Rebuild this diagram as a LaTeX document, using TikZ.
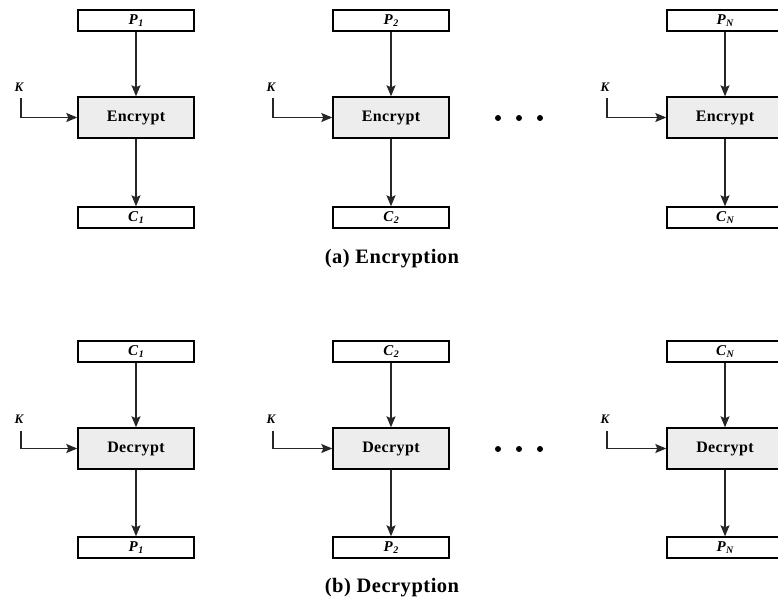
\documentclass[tikz,border=0pt]{standalone}
\usepackage{fontspec}
\setmainfont{Liberation Serif}
\newfontfamily\widefont[LetterSpace=2.5]{Liberation Serif}
\usetikzlibrary{arrows.meta}
% letter with a lowered index, set in the current font
\newcommand\lblsub[2]{#1\kern0.5pt\raisebox{-0.35ex}{\fontsize{10}{10}\selectfont #2}}
\begin{document}
\begin{tikzpicture}[x=1pt,y=-1pt,
  io/.style={draw, line width=1.4pt, minimum width=116pt, minimum height=21pt,
    inner sep=0pt, font=\bfseries\itshape\fontsize{15}{15}\selectfont},
  cipher/.style={draw, line width=1.4pt, fill=gray!14, minimum width=116pt,
    minimum height=41pt, inner sep=0pt, font=\widefont\bfseries\fontsize{16}{16}\selectfont},
  flow/.style={-{Stealth[length=11pt,width=9pt,inset=2pt]}, line width=1.1pt, draw=black!85},
  keylbl/.style={font=\bfseries\itshape\fontsize{13}{13}\selectfont, inner sep=0pt},
  caption/.style={font=\widefont\bfseries\fontsize{20.5}{20.5}\selectfont, inner sep=0pt},
  dot/.style={circle, fill=black, inner sep=0pt, minimum size=6pt}]
\useasboundingbox (0,0) rectangle (778,599);

% one column per block: index / centre x / key line x / input index / output index
\foreach \i/\cx/\kx/\s in {1/136/21/1, 2/391/273/2, 3/725/607/N} {
  % encryption row
  \node[io] (ep\i) at (\cx,20.5) {\lblsub{P}{\s}};
  \node[cipher] (enc\i) at (\cx,117.5) {Encrypt};
  \node[io] (ec\i) at (\cx,217.5) {\lblsub{C}{\s}};
  \node[keylbl] (ek\i) at (\kx-2,87) {K};
  \coordinate (ekt\i) at (\kx,98);
  \draw[flow] (ep\i) -- (enc\i);
  \draw[flow] (enc\i) -- (ec\i);
  \draw[flow] (ekt\i) |- (enc\i.west);
  % decryption row
  \node[io] (dc\i) at (\cx,351.5) {\lblsub{C}{\s}};
  \node[cipher] (dec\i) at (\cx,448.5) {Decrypt};
  \node[io] (dp\i) at (\cx,547.5) {\lblsub{P}{\s}};
  \node[keylbl] (dk\i) at (\kx-2,419) {K};
  \coordinate (dkt\i) at (\kx,431);
  \draw[flow] (dc\i) -- (dec\i);
  \draw[flow] (dec\i) -- (dp\i);
  \draw[flow] (dkt\i) |- (dec\i.west);
}

% ellipses between the second and last columns
\foreach \y/\r in {118/e, 449/d} {
  \node[dot] (\r dotA) at (498,\y) {};
  \node[dot] (\r dotB) at (519,\y) {};
  \node[dot] (\r dotC) at (540,\y) {};
}

\node[caption] (capa) at (392,259) {(a) Encryption};
\node[caption] (capb) at (392,588) {(b) Decryption};
\end{tikzpicture}
\end{document}
